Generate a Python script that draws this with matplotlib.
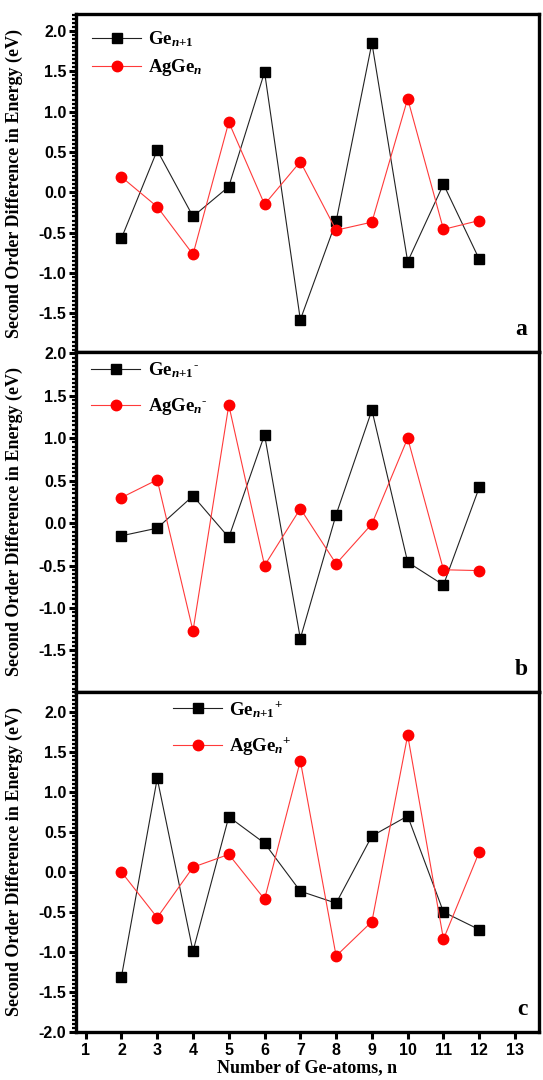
import matplotlib
matplotlib.use("Agg")
import matplotlib.pyplot as plt
from matplotlib.ticker import MultipleLocator

plt.rcParams['mathtext.fontset'] = 'custom'
plt.rcParams['mathtext.rm'] = 'Liberation Serif:bold'
plt.rcParams['mathtext.it'] = 'Liberation Serif:italic:bold'
plt.rcParams['mathtext.bf'] = 'Liberation Serif:bold'
plt.rcParams['axes.unicode_minus'] = False

n_atoms = [2, 3, 4, 5, 6, 7, 8, 9, 10, 11, 12]

ge_neutral = [-0.57, 0.52, -0.30, 0.07, 1.49, -1.58, -0.36, 1.85, -0.86, 0.10, -0.83]
agge_neutral = [0.19, -0.18, -0.77, 0.87, -0.15, 0.38, -0.47, -0.37, 1.16, -0.46, -0.35]

ge_anion = [-0.15, -0.06, 0.32, -0.17, 1.04, -1.36, 0.10, 1.33, -0.46, -0.73, 0.42]
agge_anion = [0.30, 0.51, -1.27, 1.39, -0.50, 0.17, -0.48, -0.01, 1.00, -0.55, -0.56]

ge_cation = [-1.31, 1.17, -0.99, 0.69, 0.36, -0.24, -0.39, 0.45, 0.70, -0.50, -0.72]
agge_cation = [0.00, -0.57, 0.06, 0.22, -0.34, 1.39, -1.05, -0.62, 1.71, -0.84, 0.25]

x_ticks = list(range(1, 14))

ge_labels = [r'Ge$_{n\mathrm{+1}}$',
             r'Ge$_{n\mathrm{+1}}$$^{\text{-}}$',
             r'Ge$_{n\mathrm{+1}}$$^{\mathrm{+}}$']
agge_labels = [r'AgGe$_{n}$',
               r'AgGe$_{n}$$^{\text{-}}$',
               r'AgGe$_{n}$$^{\mathrm{+}}$']
panel_letters = ['a', 'b', 'c']

W, H = 543, 1080
fig = plt.figure(figsize=(W / 100, H / 100), dpi=100)

left = 76 / W
width = (539 - 76) / W
bounds = [(14, 352), (352, 692), (692, 1032)]
ylims = [(-1.98, 2.21), (-1.99, 2.015), (-2.0, 2.25)]
leg_anchor = [(0.035, 0.955), (0.033, 0.975), (0.21, 0.98)]
leg_spacing = [0.45, 0.85, 0.85]

series = [(ge_neutral, agge_neutral), (ge_anion, agge_anion), (ge_cation, agge_cation)]

serif = 'Liberation Serif'
sans = 'Liberation Sans'

for i, (top, bot) in enumerate(bounds):
    ax = fig.add_axes([left, 1 - bot / H, width, (bot - top) / H])
    ge, agge = series[i]
    ax.plot(n_atoms, ge, color='#222222', lw=0.8, marker='s', ms=6.5,
            mfc='black', mec='black', label=ge_labels[i])
    ax.plot(n_atoms, agge, color='#ff3a3a', lw=0.8, marker='o', ms=7.5,
            mfc='red', mec='red', label=agge_labels[i])
    ax.set_xlim(0.73, 13.67)
    ax.set_ylim(*ylims[i])
    ax.yaxis.set_major_locator(MultipleLocator(0.5))
    ax.yaxis.set_minor_locator(MultipleLocator(0.05))
    ax.set_xticks(x_ticks)
    for s in ax.spines.values():
        s.set_linewidth(2.4)
    ax.tick_params(axis='y', which='major', direction='out', length=5, width=2.2,
                   labelsize=11.5, pad=2)
    ax.tick_params(axis='y', which='minor', direction='out', length=3, width=1.6)
    for lab in ax.get_yticklabels():
        lab.set_fontfamily(sans)
        lab.set_fontweight('bold')
    if i < 2:
        ax.tick_params(axis='x', which='both', bottom=False, labelbottom=False)
    else:
        ax.tick_params(axis='x', direction='out', length=5, width=2.2,
                       labelsize=11.5, pad=3)
        for lab in ax.get_xticklabels():
            lab.set_fontfamily(sans)
            lab.set_fontweight('bold')
        ax.set_xlabel('Number of Ge-atoms, n', fontfamily=serif, fontweight='bold',
                      fontsize=13, labelpad=1)
    ax.set_ylabel('Second Order Difference in Energy (eV)', fontfamily=serif,
                  fontweight='bold', fontsize=13, labelpad=4)
    ax.yaxis.set_label_coords(-0.114, 0.5)
    leg = ax.legend(loc='upper left', bbox_to_anchor=leg_anchor[i], frameon=False,
                    borderaxespad=0, borderpad=0, handlelength=2.6, handletextpad=0.4,
                    labelspacing=leg_spacing[i],
                    prop={'family': serif, 'weight': 'bold', 'size': 13.5})
    ax.text(0.975, 0.035, panel_letters[i], transform=ax.transAxes, ha='right',
            va='bottom', fontfamily=serif, fontweight='bold', fontsize=17)

fig.savefig('out.png', dpi=100)
